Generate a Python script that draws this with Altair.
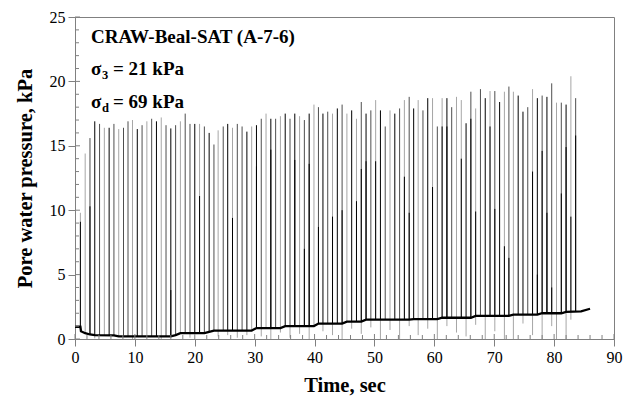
import altair as alt
import pandas as pd

FONT = "Liberation Serif"
AX = "#808080"

# ---- data ----
spike_t = [0.9, 1.7, 2.5, 3.3, 4.1, 4.9, 5.7, 6.5, 7.3, 8.1,
           8.85, 9.6, 10.4, 11.2, 12.0, 12.8, 13.6, 14.4, 15.2, 16.0,
           16.8, 17.6, 18.4, 19.2, 20.0, 20.8, 21.6, 22.4, 23.2, 23.9,
           24.75, 25.5, 26.3, 27.1, 27.9, 28.7, 29.5, 30.3, 31.1, 31.9,
           32.7, 33.5, 34.3, 35.1, 35.9, 36.7, 37.5, 38.3, 39.1, 39.9,
           40.65, 41.4, 42.2, 43.0, 43.8, 44.6, 45.4, 46.2, 47.0, 47.8,
           48.6, 49.4, 50.2, 51.0, 51.8, 52.6, 53.4, 54.2, 55.0, 55.8,
           56.55, 57.3, 58.1, 58.9, 59.7, 60.5, 61.3, 62.1, 62.9, 63.7,
           64.5, 65.3, 66.1, 66.9, 67.7, 68.5, 69.3, 70.1, 70.9, 71.7,
           72.45, 73.2, 74.0, 74.8, 75.6, 76.4, 77.2, 78.0, 78.8, 79.6,
           80.4, 81.2, 82.0, 82.8, 83.6]

spike_peak = [9.8, 14.4, 15.6, 16.9, 16.7, 16.4, 16.4, 16.7, 16.3, 16.4,
              16.9, 17.0, 16.3, 16.6, 16.9, 17.1, 16.9, 17.2, 16.6, 16.35,
              16.6, 16.9, 17.5, 16.7, 16.7, 16.7, 16.5, 16.0, 15.1, 16.2,
              16.5, 16.7, 16.4, 16.7, 16.5, 16.1, 16.5, 16.6, 17.1, 17.5,
              17.1, 17.1, 17.3, 17.5, 17.1, 17.5, 17.3, 17.0, 17.5, 18.2,
              18.0, 17.5, 17.65, 17.5, 17.9, 18.2, 17.5, 17.75, 17.1, 18.4,
              17.5, 17.75, 18.55, 17.75, 16.5, 17.75, 17.5, 17.9, 18.55, 18.8,
              17.9, 18.55, 17.75, 18.7, 18.7, 16.5, 18.7, 18.7, 18.0, 18.8,
              18.55, 16.75, 19.2, 17.9, 19.4, 18.7, 19.25, 19.25, 18.4, 19.2,
              19.6, 19.2, 18.9, 17.65, 18.0, 19.4, 18.7, 18.9, 18.8, 19.85,
              18.35, 18.35, 18.2, 20.4, 18.7]

spike_base = [0.95, 0.5, 0.35, 0.3, 0.3, 0.3, 0.3, 0.3, 0.2, 0.2,
              0.2, 0.2, 0.2, 0.2, 0.2, 0.2, 0.2, 0.2, 0.2, 0.2,
              0.3, 0.45, 0.45, 0.45, 0.45, 0.45, 0.45, 0.55, 0.65, 0.65,
              0.65, 0.65, 0.65, 0.65, 0.65, 0.65, 0.65, 0.85, 0.85, 0.85,
              0.85, 0.85, 0.85, 1.0, 1.0, 1.0, 1.0, 1.0, 1.0, 1.0,
              1.2, 1.2, 1.2, 1.2, 1.2, 1.2, 1.35, 1.35, 1.35, 1.35,
              1.5, 1.5, 1.5, 1.5, 1.5, 1.5, 1.5, 1.5, 1.5, 1.5,
              1.55, 1.55, 1.55, 1.55, 1.55, 1.55, 1.65, 1.65, 1.65, 1.65,
              1.65, 1.65, 1.65, 1.8, 1.8, 1.8, 1.8, 1.8, 1.8, 1.8,
              1.8, 1.9, 1.9, 1.9, 1.9, 1.9, 1.9, 2.0, 2.0, 2.0,
              2.0, 2.0, 2.1, 2.1, 2.1]

# 0 = black, 1 = dark grey, 2 = light grey
spike_shade = [2, 2, 1, 0, 1, 2, 0, 1, 2, 1,
               1, 2, 0, 1, 2, 1, 0, 2, 1, 0,
               1, 2, 1, 1, 0, 2, 1, 0, 1, 2,
               1, 0, 2, 1, 1, 0, 2, 0, 1, 2,
               0, 1, 2, 0, 1, 0, 2, 1, 0, 2,
               1, 0, 1, 2, 0, 1, 2, 0, 2, 1,
               0, 1, 2, 0, 1, 2, 0, 1, 2, 1,
               0, 2, 1, 0, 2, 1, 2, 0, 1, 2,
               2, 0, 1, 2, 1, 0, 2, 1, 0, 2,
               1, 2, 0, 0, 1, 2, 0, 1, 0, 1,
               2, 1, 0, 2, 1]

# black partial lines drawn over some spikes (0 = none)
spike_inner = [9.1, 0, 10.3, 0, 0, 0, 0, 0, 0, 0,
               0, 0, 0, 0, 0, 0, 0, 0, 0, 3.8,
               0, 0, 0, 0, 0, 11.1, 0, 0, 0, 0,
               0, 0, 9.4, 0, 0, 0, 0, 13.4, 0, 0,
               14.7, 0, 0, 0, 0, 13.9, 0, 7.0, 13.6, 0,
               8.7, 0, 0, 9.5, 0, 10.0, 0, 0, 10.7, 13.2,
               13.8, 0, 13.8, 0, 0, 0, 0, 0, 12.6, 9.8,
               0, 0, 0, 0, 11.8, 0, 16.5, 16.5, 0, 0,
               14.0, 0, 17.1, 9.9, 0, 0, 16.5, 10.1, 0, 7.2,
               6.3, 0, 0, 0, 0, 13.0, 5.0, 14.6, 9.8, 4.0,
               0, 11.3, 14.9, 9.5, 15.8]

N = None
# downward dips below the baseline (None = none)
spike_dip = [N, N, N, 0.05, N, N, N, N, N, N,
             N, 0.0, N, N, N, N, N, 0.0, N, N,
             N, N, N, 0.1, N, N, N, N, N, 0.2,
             N, 0.3, N, 0.1, N, 0.3, N, N, 0.2, N,
             0.0, N, 0.5, N, 0.1, N, 0.4, N, 0.0, N,
             N, 0.6, N, 0.3, N, 0.0, N, 0.8, N, 0.4,
             N, 0.9, N, 0.0, N, 0.7, N, 0.0, N, 1.0,
             N, 0.3, N, 0.8, N, 0.0, N, 1.0, N, 0.5,
             N, 0.2, N, 1.1, N, 0.0, N, 0.6, N, 0.0,
             N, 0.0, N, 1.2, N, 0.3, N, 0.0, N, 1.0,
             0.0, N, 0.0, 1.5, N]

base_t = [0, 0.9, 1.0, 1.7, 2.5, 3.3, 6.5, 7.3, 16.0, 16.8, 17.6, 21.6, 22.4,
          23.2, 29.5, 30.3, 34.3, 35.1, 39.9, 40.65, 44.6, 45.4, 47.8, 48.6,
          55.8, 56.55, 60.5, 61.3, 66.1, 66.9, 72.45, 73.2, 77.2, 78.0, 81.2,
          82.0, 84.5, 86.0]
base_v = [0.95, 0.95, 0.6, 0.45, 0.35, 0.3, 0.28, 0.2, 0.2, 0.3, 0.45, 0.45,
          0.55, 0.65, 0.65, 0.85, 0.85, 1.0, 1.0, 1.2, 1.2, 1.35, 1.35, 1.5,
          1.5, 1.55, 1.55, 1.65, 1.65, 1.8, 1.8, 1.9, 1.9, 2.0, 2.0, 2.1,
          2.15, 2.35]

x_ticks = [0, 10, 20, 30, 40, 50, 60, 70, 80, 90]
x_minor = [v for v in range(0, 91, 2) if v % 10 != 0]
y_ticks = [0, 5, 10, 15, 20, 25]
y_minor = [v for v in range(0, 26) if v % 5 != 0]

shade_names = ["black", "dark", "light"]
shade_colors = ["#000000", "#4e4e4e", "#a6a6a6"]

ann_t = 2.67
title_lines = ["CRAW-Beal-SAT (A-7-6)", "σ", "σ"]
title_v = [22.98, 20.5, 17.93]
sub_text = ["3", "d"]
rest_text = ["= 21 kPa", "= 69 kPa"]
sub_v = [20.5, 17.93]

# ---- tables ----
spikes = pd.DataFrame({
    "t": spike_t, "peak": spike_peak, "base": spike_base,
    "shade": [shade_names[s] for s in spike_shade],
    "rank": spike_shade, "inner": spike_inner, "dip": spike_dip,
})
spikes = spikes.sort_values("rank", ascending=False, kind="stable")
inner_df = spikes[spikes["inner"] > 0]
dip_df = spikes[spikes["dip"].notna()]
base_df = pd.DataFrame({"t": base_t, "v": base_v})

x_scale = alt.Scale(domain=[0, 90], nice=False, zero=False)
y_scale = alt.Scale(domain=[0, 25], nice=False, zero=False)

x_axis = alt.Axis(values=x_ticks, title="Time, sec", grid=False, tickSize=7,
                  tickColor=AX, domainColor=AX, labelFont=FONT, labelFontSize=16,
                  labelColor="black", labelPadding=3, labelFlush=False,
                  titleFont=FONT, titleFontSize=20.5, titleFontWeight="bold",
                  titleColor="black", titlePadding=10)
y_axis = alt.Axis(values=y_ticks, title="Pore water pressure, kPa", grid=False,
                  tickSize=7, tickColor=AX, domainColor=AX, labelFont=FONT,
                  labelFontSize=16, labelColor="black", labelPadding=3,
                  labelFlush=False, titleFont=FONT, titleFontSize=20.5,
                  titleFontWeight="bold", titleColor="black", titlePadding=14)


def X(field="t"):
    return alt.X(f"{field}:Q", scale=x_scale, axis=x_axis)


def Y(field):
    return alt.Y(f"{field}:Q", scale=y_scale, axis=y_axis)


spike_layer = alt.Chart(spikes).mark_rule(strokeWidth=1).encode(
    x=X(), y=Y("peak"), y2="base:Q",
    color=alt.Color("shade:N", scale=alt.Scale(domain=shade_names, range=shade_colors), legend=None),
)
dip_layer = alt.Chart(dip_df).mark_rule(strokeWidth=1, color="#a6a6a6").encode(
    x=X(), y=Y("base"), y2="dip:Q")
inner_layer = alt.Chart(inner_df).mark_rule(strokeWidth=1, color="#000000").encode(
    x=X(), y=Y("inner"), y2="base:Q")
base_layer = alt.Chart(base_df).mark_line(strokeWidth=2.3, color="#000000").encode(
    x=X(), y=Y("v"))

xmaj_in = alt.Chart(pd.DataFrame({"t": x_ticks})).mark_rule(color=AX).encode(
    x=X(), y=alt.value(322), y2=alt.value(317))
xmin_in = alt.Chart(pd.DataFrame({"t": x_minor})).mark_rule(color=AX).encode(
    x=X(), y=alt.value(322), y2=alt.value(318))
ymaj_in = alt.Chart(pd.DataFrame({"v": y_ticks})).mark_rule(color=AX).encode(
    y=Y("v"), x=alt.value(0), x2=alt.value(5))
ymin_in = alt.Chart(pd.DataFrame({"v": y_minor})).mark_rule(color=AX).encode(
    y=Y("v"), x=alt.value(0), x2=alt.value(4))

ann_main = alt.Chart(pd.DataFrame({"t": [ann_t] * 3, "v": title_v, "txt": title_lines})).mark_text(
    font=FONT, fontSize=19, fontWeight="bold", align="left", baseline="alphabetic", color="black"
).encode(x=X(), y=Y("v"), text="txt:N")
ann_sub = alt.Chart(pd.DataFrame({"t": [ann_t] * 2, "v": sub_v, "txt": sub_text})).mark_text(
    font=FONT, fontSize=12.5, fontWeight="bold", align="left", baseline="alphabetic", color="black",
    dx=11, dy=4
).encode(x=X(), y=Y("v"), text="txt:N")
ann_rest = alt.Chart(pd.DataFrame({"t": [ann_t] * 2, "v": sub_v, "txt": rest_text})).mark_text(
    font=FONT, fontSize=19, fontWeight="bold", align="left", baseline="alphabetic", color="black",
    dx=22
).encode(x=X(), y=Y("v"), text="txt:N")

chart = alt.layer(
    spike_layer, dip_layer, inner_layer, base_layer,
    xmaj_in, xmin_in, ymaj_in, ymin_in,
    ann_main, ann_sub, ann_rest,
).properties(
    width=539, height=322,
    padding={"left": 75, "top": 17, "right": 22, "bottom": 75},
    autosize=alt.AutoSizeParams(type="none"),
    background="white",
).configure_view(stroke=AX, strokeWidth=1)

chart.save("out.html", embed_options={"renderer": "svg", "actions": False})
